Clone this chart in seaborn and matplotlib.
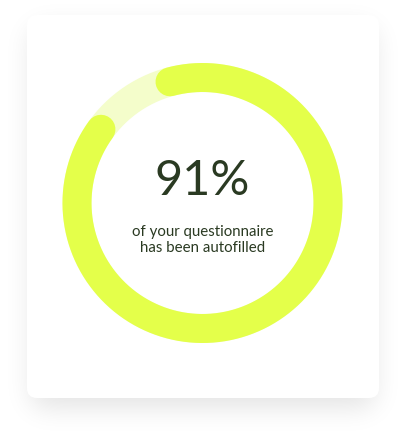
import numpy as np
import pandas as pd
import matplotlib.pyplot as plt
from matplotlib.patches import FancyBboxPatch
import seaborn as sns

sns.set_theme(style="white")
plt.rcParams['font.family'] = ['Lato', 'DejaVu Sans']

# --- data ---
pct_done = 91
headline = "91%"
caption = ["of your questionnaire", "has been autofilled"]

# colours
ring_col = "#E4FF4A"
track_col = "#F4FDCB"
text_col = "#2A3A22"

W, H = 406, 438
cx, cy, r = 202.5, 203.0, 125.5
ring_px = 29
start_deg = -15  # measured clockwise from 12 o'clock

fig = plt.figure(figsize=(W / 100, H / 100), dpi=100)
ax = fig.add_axes([0, 0, 1, 1])
ax.set_xlim(0, W)
ax.set_ylim(H, 0)
ax.axis('off')
fig.patch.set_facecolor('white')

# card shadow: blurred rounded rect, shifted down a bit
card = (27, 15, 379, 398)
yy, xx = np.mgrid[0:H, 0:W] + 0.5
def rrect_mask(x0, y0, x1, y1, rad):
    dx = np.maximum(np.maximum(x0 + rad - xx, xx - (x1 - rad)), 0)
    dy = np.maximum(np.maximum(y0 + rad - yy, yy - (y1 - rad)), 0)
    return (dx ** 2 + dy ** 2 <= rad ** 2).astype(float)

mask = rrect_mask(card[0] + 4, card[1] + 12, card[2] - 4, card[3] + 10, 12)
sig = 13
k = np.arange(-3 * sig, 3 * sig + 1)
kern = np.exp(-k ** 2 / (2 * sig ** 2))
kern /= kern.sum()
blur = np.apply_along_axis(lambda v: np.convolve(v, kern, mode='same'), 0, mask)
blur = np.apply_along_axis(lambda v: np.convolve(v, kern, mode='same'), 1, blur)
shadow = np.zeros((H, W, 4))
shadow[..., 3] = blur * 0.11
ax.imshow(shadow, extent=(0, W, H, 0), zorder=0, interpolation='bilinear')

ax.add_patch(FancyBboxPatch((card[0], card[1]), card[2] - card[0], card[3] - card[1],
                            boxstyle="round,pad=0,rounding_size=10",
                            fc='white', ec='none', zorder=1))

# ring
lw_pt = ring_px * 72 / 100
def arc(t0, t1, n=400):
    t = np.radians(np.linspace(t0, t1, n))
    return pd.DataFrame({'x': cx + r * np.sin(t), 'y': cy - r * np.cos(t)})

track = arc(0, 360)
sns.lineplot(data=track, x='x', y='y', sort=False, estimator=None, ax=ax,
             color=track_col, linewidth=lw_pt, zorder=2)

cap_deg = np.degrees((ring_px / 2) / r)
sweep = pct_done / 100 * 360 - cap_deg
done = arc(start_deg, start_deg + sweep)
sns.lineplot(data=done, x='x', y='y', sort=False, estimator=None, ax=ax,
             color=ring_col, linewidth=lw_pt, zorder=3,
             solid_capstyle='round')
ax.set_xlim(0, W)
ax.set_ylim(H, 0)
ax.axis('off')

# text
ax.text(cx, 195, headline, ha='center', va='baseline', fontsize=35,
        fontweight='normal', color=text_col, zorder=4)
for i, line in enumerate(caption):
    ax.text(cx, 236.5 + 16 * i, line, ha='center', va='baseline',
            fontsize=10.8, color=text_col, zorder=4)

fig.savefig('out.png', dpi=100)
